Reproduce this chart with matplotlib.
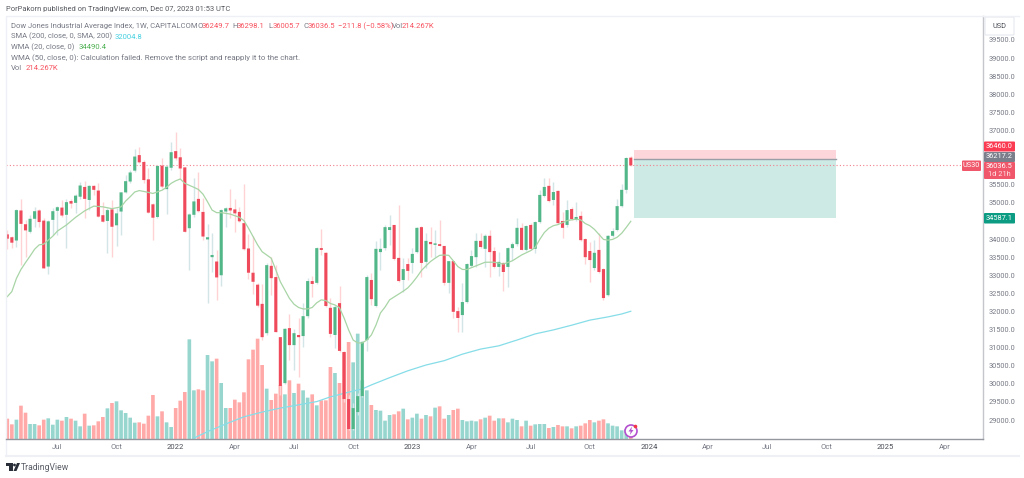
import matplotlib
matplotlib.use("Agg")
import matplotlib.pyplot as plt
from matplotlib.patches import Circle, Polygon, Rectangle, FancyBboxPatch

opens = [34130,34050,33960,34790,34410,34200,34560,34790,34510,33240,
34530,34780,34870,34670,35050,35000,35170,35440,35080,35470,
35340,34660,34500,34820,34380,34760,35290,35590,35890,36320,
36130,35650,34960,34610,36030,35380,35970,36430,36260,35980,
34300,34670,35110,34750,33990,33500,33380,33000,34760,34860,
34820,34750,34440,33740,33070,32740,32210,31400,33260,32950,
31290,30020,31540,31070,31350,31320,31870,32840,32790,33750,
33620,32100,31350,32230,30880,29580,28750,29220,29660,31210,
32870,32150,33640,33750,34250,34390,33480,32870,33310,33340,
33640,34330,33370,33920,33840,33860,33810,32790,33390,32010,
31900,32260,33260,33500,33950,33730,34090,33670,33230,33340,
33230,33750,33860,34310,33700,34390,33730,34470,35190,35470,
35080,35330,34500,34390,34830,34530,34640,34000,33670,33200,
33700,33170,32450,34090,34250,34910,35360,36249.7]
closes = [34010,33900,34800,34420,34240,34560,34770,34470,33190,34490,
34770,34880,34650,35020,34980,35200,35480,35110,35470,35360,
34620,34480,34800,34340,34710,35290,35600,35840,36280,36120,
35630,34730,34590,36020,35450,36000,36400,36230,35950,34200,
34680,35040,34770,34070,34050,33560,32940,34800,34850,34790,
34710,34490,33720,33070,32820,32160,31290,33280,32920,31430,
29940,31520,31070,31400,31290,31870,32840,32760,33750,33700,
32150,31380,32120,30910,29580,28750,29330,29660,31160,32950,
32340,33730,33730,34330,34330,33450,32840,33170,33120,33590,
34310,33340,33950,33860,33860,33810,32790,33390,31990,31820,
32260,33310,33530,33950,33780,34090,33640,33230,33370,33090,
33750,33860,34310,33700,34360,33730,34470,35220,35440,35050,
35300,34440,34310,34800,34550,34610,33970,33500,33420,33620,
33090,32370,34090,34220,34910,35360,36240,36036.5]
highs = [34250,34080,34820,35100,34530,34660,34880,34820,34570,34530,
34850,34900,35080,35100,35120,35240,35590,35610,35490,35490,
35540,35030,34850,35080,34850,35310,35770,35910,36480,36550,
36180,35950,34990,36050,36230,36050,36690,36950,36510,36000,
34710,35680,35860,35130,34420,34160,33700,34820,34880,35390,
35120,34880,35520,34140,34080,32780,32760,33340,33500,33280,
31290,31540,31930,31520,31820,32230,32920,32980,33780,34280,
33640,32370,32180,32700,30910,29690,29470,29750,31180,33010,
33060,33950,34030,34390,34660,34390,34940,33480,33480,33750,
34330,34360,34170,34330,34250,34530,33810,33390,33390,32120,
32790,33340,33700,34170,34170,34140,34250,33780,33640,33370,
33780,33920,34580,34440,34390,34440,34500,35360,35690,35690,
35580,35360,34750,35080,34890,35020,34780,34030,33920,33970,
34170,33200,34110,34310,35110,35520,36270,36298.1]
lows = [33720,33740,33770,33290,33510,34160,34320,34340,33190,33030,
34110,34110,34620,33740,34850,34710,35120,34570,34800,35220,
34600,34480,33620,33510,33820,34100,35260,35540,35860,36090,
35560,34710,33970,34570,35400,34680,35910,36180,35650,34200,
33140,34620,34760,33970,32240,33100,32330,32700,34320,34570,
34200,34480,33700,32910,32480,32130,31210,31350,32450,31430,
29690,30000,30660,30380,30190,31020,31820,32400,32760,33560,
32120,31290,30990,30880,29500,28720,28720,29140,29640,30910,
32180,32120,33150,33700,33840,33420,32810,32540,32870,33060,
33620,32950,33200,33500,33500,33810,32730,32510,31820,31430,
31430,32230,33230,33230,33750,33230,32950,33200,32980,32570,
32680,33420,33810,33700,33670,33700,33620,34440,35160,35020,
34940,34420,34030,34330,34530,34500,33950,33310,32810,33150,
33060,32320,32430,34060,34220,34890,35270,36005.7]
volumes = [610,440,580,1000,790,450,450,410,580,620,
430,580,550,660,610,550,380,760,400,410,
530,660,920,1080,1130,860,780,640,490,500,
460,700,1320,680,830,500,360,930,1150,1410,
2990,1460,1490,1460,2520,2330,2410,1680,930,930,
1180,1100,1400,2390,2680,3010,2220,1510,1170,1360,
1610,1340,1760,1380,1660,1460,1240,1340,1010,1160,
1160,2160,1980,1680,2600,2910,2300,3160,1760,1460,
1020,870,850,550,720,740,830,910,590,640,
760,610,720,680,940,980,610,720,870,910,
570,530,550,530,590,640,700,550,620,620,
500,610,570,380,550,400,440,450,450,330,
360,420,380,380,320,380,400,470,570,500,
550,590,470,400,380,260,300,214.267]

wma_bars = [0,1,2,3,4,5,6,7,8,9,10,11,13,15,17,19,21,23,25,26,27,28,29,31,32,34,35,36,37,38,39,41,42,43,44,45,46,
47,49,51,52,53,54,55,56,57,58,59,60,61,62,63,64,65,66,67,68,69,70,71,72,73,74,75,76,77,78,79,80,81,82,83,
84,85,86,87,88,89,90,91,92,93,94,95,96,97,98,99,100,101,103,105,107,109,111,113,115,116,117,118,119,120,121,
123,125,126,127,128,129,130,131,132,133,134,135,136,137]
wma_vals = [32410,32550,32910,33160,33350,33530,33720,33840,33860,33970,34080,34220,34390,34600,34780,34910,34890,34840,34890,35050,35170,35300,35340,35290,35260,35350,35430,35540,35610,35660,35540,35430,35370,35240,35030,34800,34730,
34730,34690,34600,34510,34300,34070,33840,33650,33560,33470,33150,32820,32590,32360,32200,32110,32070,32070,32110,32240,32320,32300,32220,32180,32100,31820,31490,31210,31130,31130,31210,31350,31620,31960,32120,
32320,32400,32480,32560,32650,32790,32950,33130,33260,33380,33470,33550,33560,33550,33400,33240,33160,33160,33260,33360,33360,33310,33400,33560,33680,33770,33990,34180,34300,34370,34400,
34510,34550,34530,34430,34370,34270,34130,33990,33970,33990,34050,34160,34320,34490.4]
sma_bars = [41,44,48,52,56,60,64,68,71,75,78,80,84,88,92,96,100,104,108,112,116,120,124,128,132,135,137]
sma_vals = [28500,28680,28890,29090,29220,29330,29420,29510,29640,29770,29860,29970,30170,30360,30520,30640,30820,30960,31050,31210,31380,31490,31620,31760,31850,31930,32004.8]

price_ticks = [39500,39000,38500,38000,37500,37000,35500,35000,34000,33500,33000,32500,32000,31500,31000,30500,30000,29500,29000]
time_ticks = [11,24,37,50,63,76,89,102,115,128,141,154,167,180,193,206]
time_labels = ["Jul","Oct","2022","Apr","Jul","Oct","2023","Apr","Jul","Oct","2024","Apr","Jul","Oct","2025","Apr"]

plt.rcParams["font.family"] = ["Roboto", "DejaVu Sans"]

W, H = 1024, 478
GREY = "#777a85"
RED = "#f7525f"
FS = 5.5
AXFS = 5.3
fig = plt.figure(figsize=(W/100, H/100), dpi=100, facecolor="white")

def px_axes(x0, y0, x1, y1):
    return fig.add_axes([x0/W, 1-y1/H, (x1-x0)/W, (y1-y0)/H])

# volume sits behind the price pane
vol_ax = px_axes(6, 16, 983, 439)
vol_ax.set_xlim(-0.286, 214.4)
vol_ax.set_ylim(0, 12690)
vol_ax.axis("off")
xs = list(range(len(opens)))
vol_cols = ["#ffaaa8" if c < o else "#97d6cf" for o, c in zip(opens, closes)]
vol_ax.bar(xs, volumes, width=0.8, color=vol_cols, linewidth=0, snap=False)

ax = px_axes(6, 16, 983, 439)
ax.patch.set_visible(False)
ax.set_xlim(-0.286, 214.4)
ax.set_ylim(28476, 40163)
for s in ["left", "top", "bottom"]:
    ax.spines[s].set_visible(False)
ax.spines["right"].set_color("#c4c6cc")
ax.spines["right"].set_linewidth(1.0)

# long position box
ax.add_patch(Rectangle((137.8, 36217.2), 44.2, 36460-36217.2, color="#fcd6da", lw=0, zorder=1))
ax.add_patch(Rectangle((137.8, 34587.1), 44.2, 36217.2-34587.1, color="#cdeae5", lw=0, zorder=1))
ax.plot([137.8, 182], [36217.2, 36217.2], color="#9a9ea6", lw=1.0, zorder=2)

ax.axhline(36036.5, color="#f4808c", lw=0.8, ls=(0, (1, 2)), zorder=2)

ax.plot(sma_bars, sma_vals, color="#86dde8", lw=0.9, zorder=2)

wick_cols = ["#ffd3d6" if c < o else "#d3e5e6" for o, c in zip(opens, closes)]
ax.vlines(xs, lows, highs, colors=wick_cols, lw=1.0, zorder=3)
body_cols = ["#ef4a5b" if c < o else "#52b788" for o, c in zip(opens, closes)]
bottoms = [min(o, c) for o, c in zip(opens, closes)]
heights = [max(abs(o-c), 40) for o, c in zip(opens, closes)]
ax.bar(xs, heights, bottom=bottoms, width=0.68, color=body_cols, linewidth=0, zorder=4, snap=False)

ax.plot(wma_bars, wma_vals, color="#a8d5a6", lw=0.9, zorder=5)

ax.yaxis.tick_right()
ax.set_yticks(price_ticks)
ax.set_yticklabels([f"{p:.1f}" for p in price_ticks], fontsize=AXFS, color=GREY)
ax.tick_params(axis="y", length=0, pad=4)
ax.set_xticks([])

# overlay in pixel coordinates for frame, legend, tags
ov = fig.add_axes([0, 0, 1, 1], zorder=10)
ov.set_xlim(0, W)
ov.set_ylim(H, 0)
ov.axis("off")

ov.plot([6, 6, 1019], [456, 16, 16], color="#eff0f5", lw=1)
ov.plot([6, 1019], [456, 456], color="#eff0f5", lw=1.5)
ov.plot([6, 983], [438.7, 438.7], color="#95979f", lw=1.0)

for t, lab in zip(time_ticks, time_labels):
    px = 7.3 + 4.55*t
    year = lab.isdigit()
    ov.text(px, 447, lab, ha="center", va="center", fontsize=FS, color="#4b4e57" if year else GREY)

def txt(x, y, s, c=GREY, fs=FS, **kw):
    return ov.text(x, y, s, color=c, fontsize=fs, va="center", **kw)

txt(6, 9, "PorPakorn published on TradingView.com, Dec 07, 2023 01:53 UTC", "#55585f", 5.45)
txt(11, 26, "Dow Jones Industrial Average Index, 1W, CAPITALCOM")
for x, s, c in [(197, "O", GREY), (202, "36249.7", RED), (232, "H", GREY), (237, "36298.1", RED),
                (268, "L", GREY), (273, "36005.7", RED), (303, "C", GREY), (308, "36036.5", RED),
                (338, "\u2212211.8 (\u22120.58%)", RED), (392, "Vol", GREY), (402, "214.267K", RED)]:
    txt(x, 26, s, c)
txt(11, 36.5, "SMA (200, close, 0, SMA, 200)")
txt(115, 36.5, "32004.8", "#45d0e0")
txt(11, 47, "WMA (20, close, 0)")
txt(79, 47, "34490.4", "#4caf50")
txt(11, 58, "WMA (50, close, 0): Calculation failed. Remove the script and reapply it to the chart.", fs=5.65)
txt(11, 68, "Vol")
txt(26, 68, "214.267K", RED)

# price tags on the right axis
def tag(x0, y0, x1, y1, col):
    ov.add_patch(FancyBboxPatch((x0+1, y0+1), x1-x0-2, y1-y0-2, boxstyle="round,pad=1", fc=col, ec="none"))

tag(984, 141.5, 1015, 151.5, "#fb3b52")
txt(999.5, 146.5, "36460.0", "white", AXFS, ha="center")
tag(984, 152, 1015, 162, "#7b7e8b")
txt(999.5, 157, "36217.2", "white", AXFS, ha="center")
tag(984, 162, 1015, 179, "#f0576a")
txt(999.5, 166, "36036.5", "white", AXFS, ha="center")
txt(999.5, 175, "1d 21h", "#ffe3e6", AXFS, ha="center")
tag(984, 213, 1015, 223.5, "#0b9c83")
txt(999.5, 218.3, "34587.1", "white", AXFS, ha="center")
tag(962, 160.5, 981, 171, "#f0576a")
txt(971.5, 165.8, "US30", "white", AXFS, ha="center")

ov.add_patch(FancyBboxPatch((986, 18), 27, 16, boxstyle="round,pad=1", fc="white", ec="#e6e8ee", lw=0.8))
txt(999.5, 26, "USD", "#4b4e57", AXFS, ha="center")

# lightning icon
ov.add_patch(Circle((631, 431), 6, fc="white", ec="#b44fd0", lw=1.2))
ov.add_patch(Polygon([(632, 426.5), (628.5, 431.5), (630.7, 431.5), (629.8, 435), (633.5, 430), (631.3, 430)], fc="#b44fd0", ec="none"))
ov.add_patch(Circle((635.5, 426.5), 1.8, fc="#f23645", ec="none"))

# TradingView logo
ov.add_patch(Polygon([(6, 463), (12.5, 463), (12.5, 471), (9, 471), (9, 466), (6, 466)], fc="#2a2e39", ec="none"))
ov.add_patch(Circle((14.5, 465), 1.4, fc="#2a2e39", ec="none"))
ov.add_patch(Polygon([(17, 463), (20, 463), (16.5, 471), (13.5, 471)], fc="#2a2e39", ec="none"))
txt(21, 467, "TradingView", "#5a5d66", 6.2)

fig.savefig("out.png", dpi=100)
